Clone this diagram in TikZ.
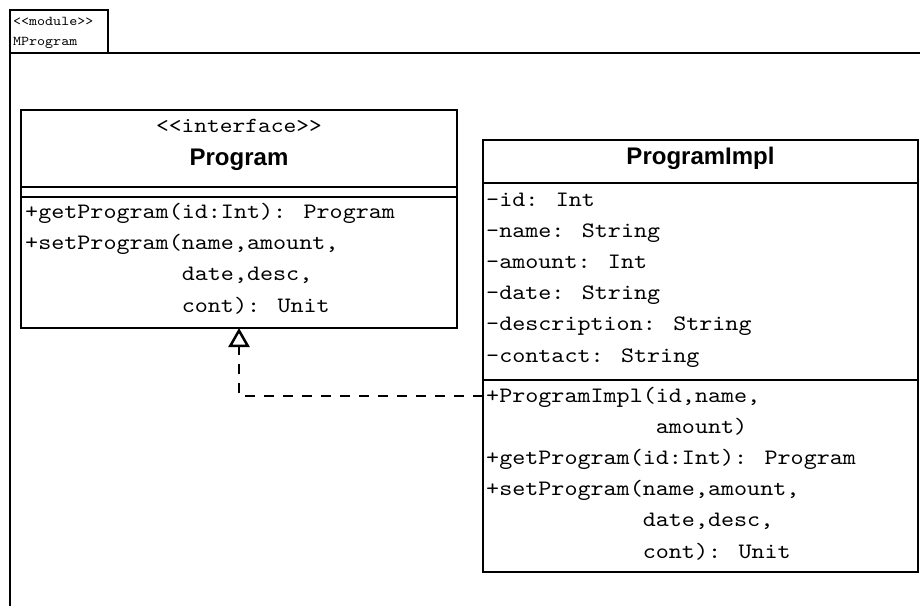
\documentclass[tikz,border=0pt]{standalone}
\usepackage{fontspec}
\setmainfont{Liberation Sans}
% slab-serif typewriter face, widened to a 0.6em advance
\IfFontExistsTF{lmmono10-regular.otf}
  {\newfontfamily\umlmono[FakeStretch=1.13]{lmmono10-regular.otf}}
  {\newfontfamily\umlmono{Liberation Mono}}
\usetikzlibrary{arrows.meta}
\begin{document}
\begin{tikzpicture}[x=1pt,y=-1pt,
  umlbox/.style={draw, line width=2.5pt, inner sep=0pt, outer sep=0pt, anchor=north west},
  framerule/.style={line width=2.5pt},
  member/.style={anchor=base west, inner sep=0pt, font=\umlmono\fontsize{22}{26}\selectfont},
  tabtext/.style={anchor=base west, inner sep=0pt, font=\umlmono\fontsize{13.5}{16}\selectfont},
  classtitle/.style={anchor=base, inner sep=0pt, font=\bfseries\fontsize{24}{28}\selectfont},
  stereo/.style={anchor=base, inner sep=0pt, font=\umlmono\fontsize{21.5}{26}\selectfont},
  realize/.style={line width=2.5pt, dash pattern=on 10pt off 9pt,
    -{Triangle[open, length=19pt, width=21pt]}}
]
\useasboundingbox (0,0) rectangle (920,605);

% module package frame with its name tab
\node[umlbox, minimum width=98pt, minimum height=43pt] (tab) at (10,10) {};
\node[tabtext] (tabstereo) at (13,25) {<<module>>};
\node[tabtext] (tabname) at (13,45) {MProgram};
\draw[framerule] (930,53) -- (tab.south west) -- (10,615);

% interface Program
\node[umlbox, minimum width=436pt, minimum height=218pt] (iface) at (21,110) {};
\draw[framerule] (iface.west |- 0,187) -- (iface.east |- 0,187);
\draw[framerule] (iface.west |- 0,197) -- (iface.east |- 0,197);
\node[stereo] (ifstereo) at (239,132) {<<interface>>};
\node[classtitle] (iftitle) at (239,165) {Program};
\node[member] (ifm1) at (25,218.5) {+getProgram(id:Int): Program};
\node[member] (ifm2) at (25,249.7) {+setProgram(name,amount,};
\node[member] (ifm3) at (25,280.9) {\hphantom{+setProgram(}date,desc,};
\node[member] (ifm4) at (25,312.1) {\hphantom{+setProgram(}cont): Unit};

% class ProgramImpl
\node[umlbox, minimum width=435pt, minimum height=432pt] (impl) at (483,140) {};
\draw[framerule] (impl.west |- 0,183) -- (impl.east |- 0,183);
\draw[framerule] (impl.west |- 0,380) -- (impl.east |- 0,380);
\node[classtitle] (imtitle) at (700.5,164) {ProgramImpl};
\node[member] (ima1) at (486,206.0) {-id: Int};
\node[member] (ima2) at (486,237.2) {-name: String};
\node[member] (ima3) at (486,268.4) {-amount: Int};
\node[member] (ima4) at (486,299.6) {-date: String};
\node[member] (ima5) at (486,330.8) {-description: String};
\node[member] (ima6) at (486,362.0) {-contact: String};
\node[member] (imm1) at (486,402.0) {+ProgramImpl(id,name,};
\node[member] (imm2) at (486,433.2) {\hphantom{+ProgramImpl(}amount)};
\node[member] (imm3) at (486,464.4) {+getProgram(id:Int): Program};
\node[member] (imm4) at (486,495.6) {+setProgram(name,amount,};
\node[member] (imm5) at (486,526.8) {\hphantom{+setProgram(}date,desc,};
\node[member] (imm6) at (486,558.0) {\hphantom{+setProgram(}cont): Unit};

% realization: ProgramImpl implements Program
\draw[realize] (impl.west |- 0,396) -| (iface.south);
\end{tikzpicture}
\end{document}
